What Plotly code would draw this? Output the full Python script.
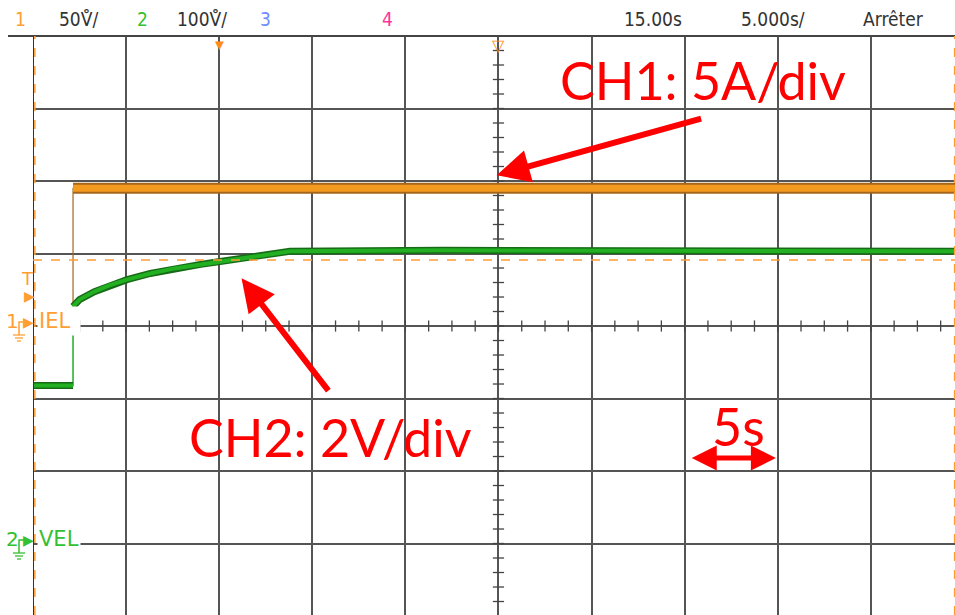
import numpy as np
import plotly.graph_objects as go

W, H = 955, 615
ML, MT = 33, 36

# time base: 5 s/div, trigger delay 15 s at screen centre
t_range = [-10, 39.52]
# CH1 5 A/div (ground on centre line), CH2 2 V/div (ground 3 div below centre)
ch1_range = [-19.93, 20]
ch2_range = [-1.97, 14]

# CH1 - IEL current (A)
t_iel = [-10.0, -7.85, -7.85, 39.6]
iel = [0.0, 0.0, 9.5, 9.5]

# CH2 - VEL voltage (V)
t_vel = [-10.0, -7.85, -7.85, -7.5, -6.7, -5.9, -4.95, -3.7, -2.4, -1.0,
         0.05, 1.4, 2.75, 3.8, 12.0, 25.0, 39.6]
vel = [4.36, 4.36, 6.54, 6.73, 6.95, 7.12, 7.28, 7.45, 7.59, 7.70,
       7.78, 7.89, 7.97, 8.06, 8.09, 8.08, 8.06]

trig_level = 4.55          # A, CH1 trigger level
cursors = [-9.9, 39.5]     # s

hdr_text = ["1", "50V̊/", "2", "100V̊/", "3", "4", "15.00s", "5.000s/", "Arrêter"]
hdr_x = [20, 78, 142, 202, 265, 387, 653, 773, 893]
hdr_col = ["#ff9f33", "#333333", "#33c033", "#333333", "#6f8cff", "#ff3399",
           "#333333", "#333333", "#333333"]

ORANGE = "#f39a1f"
BROWN = "#a5661c"
GREEN = "#22b022"
DKGREEN = "#176b17"
RED = "#ff0000"


def px(x):
    return (x - ML) / (W - ML)


def py(y):
    return (H - y) / (H - MT)


fig = go.Figure()

# CH1
fig.add_trace(go.Scatter(x=t_iel, y=iel, mode="lines", line=dict(color=BROWN, width=1.2)))
fig.add_trace(go.Scatter(x=t_iel[2:], y=iel[2:], mode="lines", line=dict(color=BROWN, width=11)))
fig.add_trace(go.Scatter(x=t_iel[2:], y=iel[2:], mode="lines", line=dict(color=ORANGE, width=7)))

# CH2
fig.add_trace(go.Scatter(x=t_vel[:3], y=vel[:3], mode="lines", yaxis="y2",
                         line=dict(color=GREEN, width=1.5)))
fig.add_trace(go.Scatter(x=t_vel[:2], y=vel[:2], mode="lines", yaxis="y2",
                         line=dict(color=DKGREEN, width=7)))
fig.add_trace(go.Scatter(x=t_vel[:2], y=vel[:2], mode="lines", yaxis="y2",
                         line=dict(color=GREEN, width=4)))
fig.add_trace(go.Scatter(x=t_vel[2:], y=vel[2:], mode="lines", yaxis="y2",
                         line=dict(color=DKGREEN, width=7)))
fig.add_trace(go.Scatter(x=t_vel[2:], y=vel[2:], mode="lines", yaxis="y2",
                         line=dict(color=GREEN, width=4)))

# centre graticule ticks
tx = np.arange(-10, 39.6, 1.25)
fig.add_trace(go.Scatter(x=tx, y=np.zeros_like(tx), mode="markers",
                         marker=dict(symbol="line-ns", size=8, line=dict(color="#444", width=1.3))))
ty = np.arange(-20, 20.01, 1.0)
fig.add_trace(go.Scatter(x=np.full_like(ty, 15.0), y=ty, mode="markers",
                         marker=dict(symbol="line-ew", size=8, line=dict(color="#444", width=1.3))))

# borders, trigger level, cursors
fig.add_shape(type="line", xref="paper", yref="paper", x0=px(8), x1=1, y0=1, y1=1,
              line=dict(color="#444", width=2))
fig.add_shape(type="line", xref="x", yref="paper", x0=-10, x1=-10, y0=0, y1=1,
              line=dict(color="#333", width=2))
fig.add_shape(type="line", xref="paper", yref="y", x0=0, x1=1, y0=trig_level, y1=trig_level,
              line=dict(color="#ff9c33", width=1.5, dash="dash"))
for c in cursors:
    fig.add_shape(type="line", xref="x", yref="paper", x0=c, x1=c, y0=0, y1=1,
                  line=dict(color="#ff9c33", width=1.5, dash="dash"))

# header
for txt, x, col in zip(hdr_text, hdr_x, hdr_col):
    fig.add_annotation(x=px(x), y=py(19), xref="paper", yref="paper", text=txt,
                       showarrow=False, xanchor="center", yanchor="middle",
                       font=dict(family="DejaVu Sans Condensed, DejaVu Sans", size=19, color=col))

# trigger markers on top
fig.add_annotation(x=0, y=1, xref="x", yref="paper", text="▼", showarrow=False,
                   yanchor="top", yshift=4, font=dict(size=15, color="#ff8c1a"))
fig.add_annotation(x=15, y=1, xref="x", yref="paper", text="▽", showarrow=False,
                   yanchor="top", yshift=4, font=dict(size=16, color="#ff8c1a"))


# channel labels with ground symbols
def ch_marker(num, name, yline, col):
    fig.add_annotation(x=px(37), y=py(yline - 5), xref="paper", yref="paper", text=name,
                       showarrow=False, xanchor="left", yanchor="middle", align="left",
                       width=40, height=26, bgcolor="white",
                       font=dict(family="DejaVu Sans", size=21, color=col))
    fig.add_annotation(x=px(12), y=py(yline - 5), xref="paper", yref="paper", text=num,
                       showarrow=False, xanchor="center", yanchor="middle",
                       font=dict(family="DejaVu Sans", size=20, color=col))
    fig.add_annotation(x=px(28), y=py(yline - 4), xref="paper", yref="paper", text="▶",
                       showarrow=False, xanchor="center", yanchor="middle",
                       font=dict(family="DejaVu Sans", size=14, color=col))
    fig.add_shape(type="path", xref="paper", yref="paper",
                  path=f"M {px(19)} {py(yline + 9)} L {px(19)} {py(yline - 4)} L {px(25)} {py(yline - 4)}",
                  line=dict(color=col, width=1.5))
    for w, dy in [(6, 9), (4, 12), (2, 15)]:
        fig.add_shape(type="line", xref="paper", yref="paper",
                      x0=px(19 - w), x1=px(19 + w), y0=py(yline + dy), y1=py(yline + dy),
                      line=dict(color=col, width=1.3))


ch_marker("1", "IEL", 326, "#ff9f33")
ch_marker("2", "VEL", 544, "#33c033")
fig.add_annotation(x=px(27), y=py(278), xref="paper", yref="paper", text="T",
                   showarrow=False, xanchor="center", yanchor="middle",
                   font=dict(family="DejaVu Sans", size=18, color="#ff9f33"))
fig.add_annotation(x=px(29), y=py(296), xref="paper", yref="paper", text="▶",
                   showarrow=False, xanchor="center", yanchor="middle",
                   font=dict(family="DejaVu Sans", size=14, color="#ff9f33"))

# red callouts
red_font = dict(family="Lato, Noto Sans", size=52, color=RED)
fig.add_annotation(x=26.0, y=17.0, text="CH1: 5A/div", showarrow=False, font=red_font)
fig.add_annotation(x=6.0, y=-7.66, text="CH2: 2V/div", showarrow=False, font=red_font)
fig.add_annotation(x=27.9, y=-6.9, text="5s", showarrow=False, font=red_font)

fig.add_annotation(x=14.9, y=10.4, ax=206, ay=-57, text="", showarrow=True,
                   arrowhead=2, arrowsize=1.1, arrowwidth=6, arrowcolor=RED)
fig.add_annotation(x=1.2, y=3.3, ax=88, ay=114, text="", showarrow=True,
                   arrowhead=2, arrowsize=1.1, arrowwidth=6, arrowcolor=RED)
fig.add_annotation(x=29.9, y=-9.1, ax=25.3, ay=-9.1, axref="x", ayref="y", text="",
                   showarrow=True, arrowhead=2, arrowside="end+start", arrowsize=1.0,
                   arrowwidth=5, arrowcolor=RED)

fig.update_xaxes(range=t_range, dtick=5, tick0=-10, showgrid=True, gridcolor="#555",
                 gridwidth=1.5, zeroline=False, showticklabels=False, ticks="")
fig.update_layout(
    width=W, height=H, margin=dict(l=ML, r=0, t=MT, b=0, autoexpand=False),
    showlegend=False, paper_bgcolor="white", plot_bgcolor="white",
    yaxis=dict(range=ch1_range, dtick=5, tick0=0, showgrid=True, gridcolor="#555",
               gridwidth=1.5, zeroline=False, showticklabels=False, ticks=""),
    yaxis2=dict(range=ch2_range, overlaying="y", showgrid=False, zeroline=False,
                showticklabels=False, ticks=""),
)

# page body has a default 8px margin; remove it so the figure sits at (0, 0)
fig.write_html("out.html", config={"displayModeBar": False},
               post_script="document.body.style.margin='0';")
